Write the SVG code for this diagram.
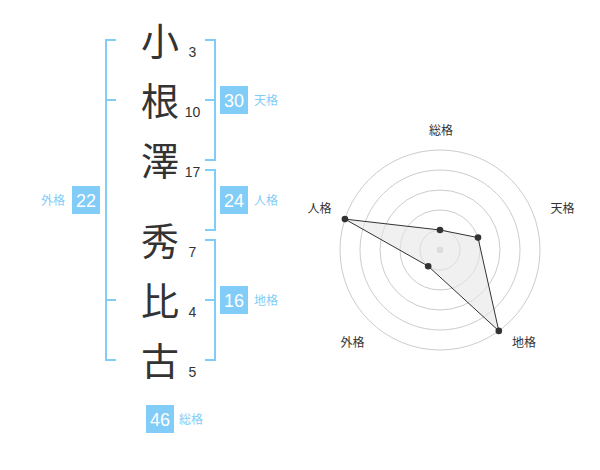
<svg xmlns="http://www.w3.org/2000/svg" width="600" height="470" viewBox="0 0 600 470">
<style>
.bk{fill:none;stroke:#82cdf8;stroke-width:2}
.ch{font-family:"Noto Sans CJK JP","Noto Sans CJK SC",sans-serif;font-size:38px;fill:#333;text-anchor:middle}
.st{font-family:"Liberation Sans",Arial,sans-serif;font-size:14px;fill:#333;text-anchor:middle}
.bx{fill:#82cdf8}
.bn{font-family:"Liberation Sans",Arial,sans-serif;font-size:18px;fill:#fff;text-anchor:middle}
.bl{font-family:"Noto Sans CJK JP",sans-serif;font-size:12px;fill:#82cdf8}
.rl{font-family:"Noto Sans CJK JP",sans-serif;font-size:12px;fill:#333;text-anchor:middle}
.ring{fill:none;stroke:#cccccc;stroke-width:1}
.pt{fill:#333}
</style>
<rect width="600" height="470" fill="#fff"/>
<g id="connectors">
<path class="bk" d="M116,40 H106 V360 H116 M106,100 H116 M106,300 H116"/>
<path class="bk" d="M205,40 H215 V160 H205 M215,100 H205"/>
<path class="bk" d="M205,170 H215 V230 H205"/>
<path class="bk" d="M205,240 H215 V360 H205 M215,300 H205"/>
</g>
<g id="chars">
<text class="ch" x="160" y="55">小</text>
<text class="ch" x="160" y="115">根</text>
<text class="ch" x="160" y="175">澤</text>
<text class="ch" x="160" y="255">秀</text>
<text class="ch" x="160" y="315">比</text>
<text class="ch" x="160" y="375">古</text>
<text class="st" x="192.5" y="57">3</text>
<text class="st" x="192.5" y="117">10</text>
<text class="st" x="192.5" y="177">17</text>
<text class="st" x="192.5" y="257">7</text>
<text class="st" x="192.5" y="317">4</text>
<text class="st" x="192.5" y="377">5</text>
</g>
<g id="tenkaku">
<rect class="bx" x="220" y="86" width="28" height="28"/>
<text class="bn" x="234" y="106.5">30</text>
<text class="bl" x="254" y="105">天格</text>
</g>
<g id="jinkaku">
<rect class="bx" x="220" y="186" width="28" height="28"/>
<text class="bn" x="234" y="206.5">24</text>
<text class="bl" x="254" y="205">人格</text>
</g>
<g id="chikaku">
<rect class="bx" x="220" y="286" width="28" height="28"/>
<text class="bn" x="234" y="306.5">16</text>
<text class="bl" x="254" y="305">地格</text>
</g>
<g id="gaikaku">
<rect class="bx" x="72" y="186" width="28" height="28"/>
<text class="bn" x="86" y="206.5">22</text>
<text class="bl" x="65" y="205" text-anchor="end">外格</text>
</g>
<g id="soukaku">
<rect class="bx" x="146" y="405" width="28" height="28"/>
<text class="bn" x="160" y="425.5">46</text>
<text class="bl" x="179" y="424">総格</text>
</g>
<g id="radar">
<circle class="ring" cx="440" cy="250" r="20"/>
<circle class="ring" cx="440" cy="250" r="40"/>
<circle class="ring" cx="440" cy="250" r="60"/>
<circle class="ring" cx="440" cy="250" r="80"/>
<circle class="ring" cx="440" cy="250" r="100"/>
<circle cx="440" cy="250" r="3.3" fill="#cccccc"/>
<polygon points="440,230 478,237.6 498.8,330.9 428.2,266.2 344.9,219.1" fill="#e6e6e6" fill-opacity="0.6" stroke="#333" stroke-width="1"/>
<circle class="pt" cx="440" cy="230" r="3.3"/>
<circle class="pt" cx="478" cy="237.6" r="3.3"/>
<circle class="pt" cx="498.8" cy="330.9" r="3.3"/>
<circle class="pt" cx="428.2" cy="266.2" r="3.3"/>
<circle class="pt" cx="344.9" cy="219.1" r="3.3"/>
<text class="rl" x="441" y="135">総格</text>
<text class="rl" x="562.5" y="213">天格</text>
<text class="rl" x="524" y="347">地格</text>
<text class="rl" x="352.5" y="347">外格</text>
<text class="rl" x="319.5" y="213">人格</text>
</g>
</svg>
